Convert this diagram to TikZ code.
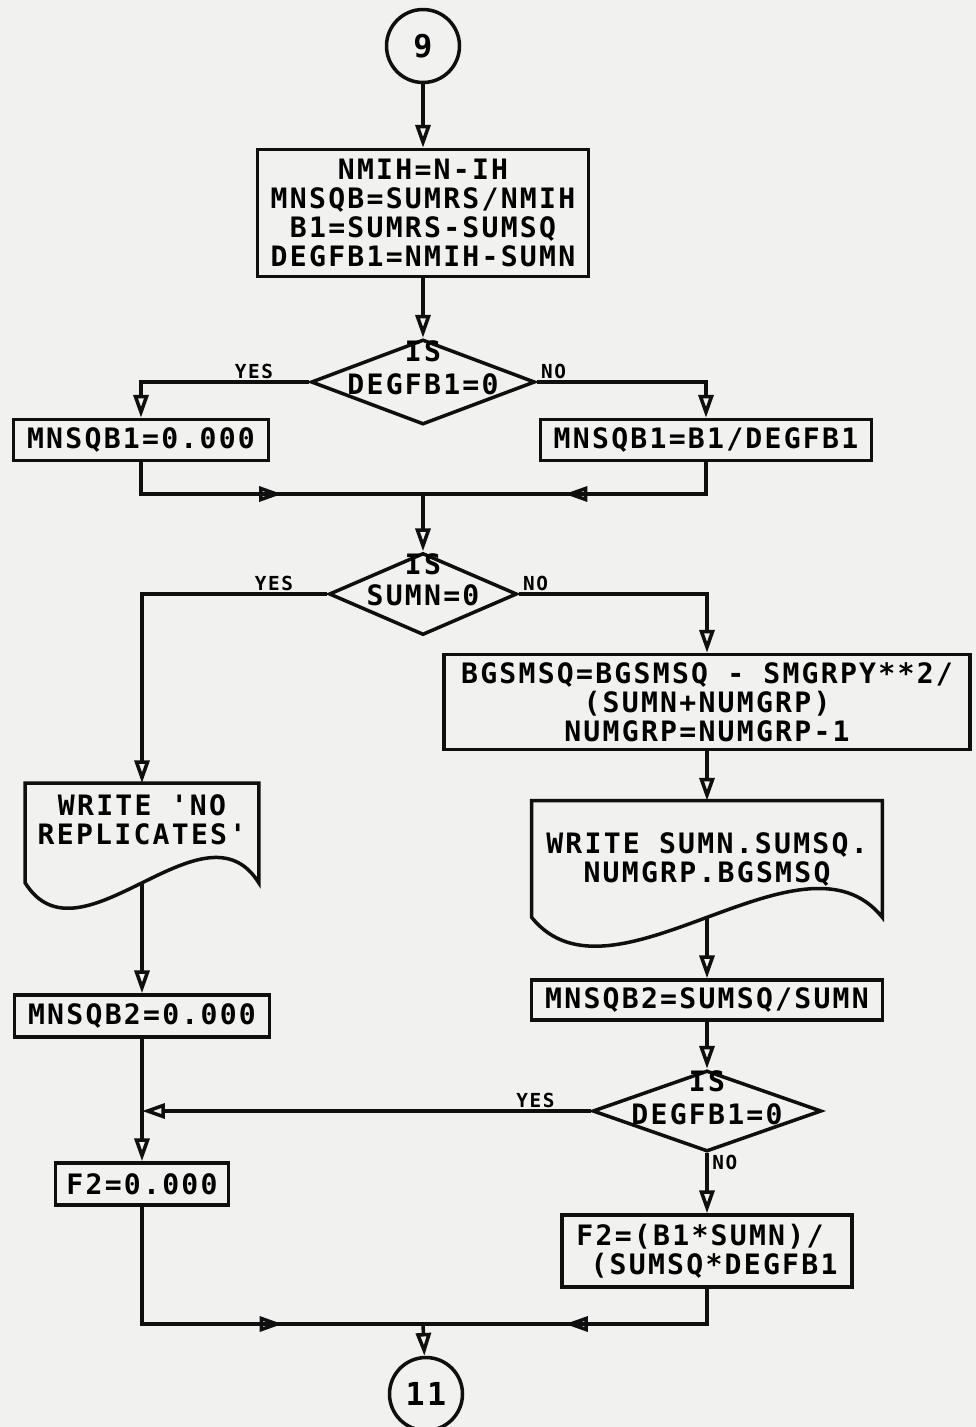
\documentclass[tikz,border=0pt]{standalone}
\usepackage{fontspec}
\newfontfamily\plotter{DejaVu Sans Mono}[LetterSpace=8]
\usepackage{xcolor}
\usetikzlibrary{arrows.meta,positioning,calc,shapes.geometric,decorations.markings}
\definecolor{paper}{RGB}{241,241,239}
\definecolor{ink}{RGB}{15,15,15}

\begin{document}
\begin{tikzpicture}[x=0.02cm,y=-0.02cm,>={Triangle[open,length=13pt,width=8.5pt]},
  font=\plotter\bfseries\fontsize{16pt}{16.5pt}\selectfont]
  \tikzset{
    box/.style={draw=ink, line width=2pt, inner sep=2pt, align=center},
    decision/.style={draw=ink, diamond, line width=2pt, inner sep=0pt},
    doc/.style={inner sep=0pt},
    term/.style={draw=ink, circle, line width=2pt, minimum size=1.46cm,
      font=\plotter\bfseries\fontsize{18pt}{18pt}\selectfont},
    line/.style={draw=ink, line width=2pt},
    flow/.style={line, ->},
    midarrow/.style={line, decoration={markings, mark=at position 0.5 with {\arrow{>}}},
      postaction={decorate}},
    answer/.style={font=\plotter\bfseries\fontsize{11pt}{11pt}\selectfont, inner sep=0pt},
    inner/.style={align=center, inner sep=0pt}
  }
  \fill[paper] (0,0) rectangle (976,1427);
  \useasboundingbox (0,0) rectangle (976,1427);

  % entry and first block
  \node[term] (c9) at (423,46) {9};
  \node[box, minimum width=6.62cm, minimum height=2.54cm] (b1) at (423,213)
    {NMIH=N-IH\\MNSQB=SUMRS/NMIH\\B1=SUMRS-SUMSQ\\DEGFB1=NMIH-SUMN};
  \draw[flow] (c9) -- (b1);

  % first test
  \node[decision, minimum width=4.48cm, minimum height=1.7cm,
    label={[inner, yshift=0.28cm]center:{IS\\[2pt]DEGFB1=0}}] (d1) at (423,382) {};
  \draw[flow] (b1) -- (d1);
  \node[box, minimum width=5.1cm, minimum height=0.82cm] (b2l) at (141,440) {MNSQB1=0.000};
  \node[box, minimum width=6.62cm, minimum height=0.82cm] (b2r) at (706,440) {MNSQB1=B1/DEGFB1};
  \draw[flow] (d1.west) -| (b2l.north);
  \draw[flow] (d1.east) -| (b2r.north);
  \node[answer, anchor=south east] (y1) at ($(d1.west)+(-36,-3)$) {YES};
  \node[answer, anchor=south west] (n1) at ($(d1.east)+(4,-3)$) {NO};

  % join
  \coordinate (j1) at (423,494);
  \draw[line] (b2l.south) |- (j1);
  \draw[midarrow] (b2l.south |- j1) -- (j1);
  \draw[line] (b2r.south) |- (j1);
  \draw[midarrow] (b2r.south |- j1) -- (j1);

  % second test
  \node[decision, minimum width=3.76cm, minimum height=1.64cm,
    label={[inner, yshift=0.28cm]center:{IS\\[1pt]SUMN=0}}] (d2) at (423,594) {};
  \draw[flow] (j1) -- (d2);
  \node[answer, anchor=south east] (y2) at ($(d2.west)+(-34,-3)$) {YES};
  \node[answer, anchor=south west] (n2) at ($(d2.east)+(4,-3)$) {NO};
  \node[box, minimum width=10.52cm, minimum height=1.9cm] (b3r) at (707,702)
    {BGSMSQ=BGSMSQ - SMGRPY**2/\\(SUMN+NUMGRP)\\NUMGRP=NUMGRP-1};
  \draw[flow] (d2.east) -| (b3r.north);

  % output documents
  \node[doc, minimum width=4.66cm, minimum height=1.98cm,
    label={[inner, yshift=0.26cm]center:{WRITE 'NO\\REPLICATES'}}] (w1) at (142,833) {};
  \draw[line, line join=miter] (w1.south west) -- (w1.north west) -- (w1.north east)
    -- (w1.south east) .. controls ($(w1.south east)+(-55,-88)$)
    and ($(w1.south west)+(55,88)$) .. (w1.south west) -- cycle;
  \draw[flow] (d2.west) -| (w1.north);
  \node[doc, minimum width=7cm, minimum height=2.32cm,
    label={[inner]center:{WRITE SUMN.SUMSQ.\\NUMGRP.BGSMSQ}}] (w2) at (707,859) {};
  \draw[line, line join=miter] (w2.south west) -- (w2.north west) -- (w2.north east)
    -- (w2.south east) .. controls ($(w2.south east)+(-80,-100)$)
    and ($(w2.south west)+(80,100)$) .. (w2.south west) -- cycle;
  \draw[flow] (b3r.south) -- (w2.north);

  % mean squares
  \node[box, minimum width=5.1cm, minimum height=0.84cm] (b4l) at (142,1016) {MNSQB2=0.000};
  \node[box, minimum width=7.02cm, minimum height=0.8cm] (b4r) at (707,1000) {MNSQB2=SUMSQ/SUMN};
  \draw[flow] (w1.south) -- (b4l.north);
  \draw[flow] (w2.south) -- (b4r.north);

  % third test
  \node[decision, minimum width=4.58cm, minimum height=1.62cm,
    label={[inner, yshift=0.27cm]center:{IS\\[2pt]DEGFB1=0}}] (d3) at (707,1111) {};
  \draw[flow] (b4r) -- (d3);
  \node[box, minimum width=3.46cm, minimum height=0.84cm] (b5l) at (142,1184) {F2=0.000};
  \node[box, align=left, minimum width=5.8cm, minimum height=1.44cm] (b5r) at (707,1251)
    {F2=(B1*SUMN)/\\\hspace*{8pt}(SUMSQ*DEGFB1};
  \draw[flow] (b4l) -- (b5l);
  \coordinate (j3) at (b4l.south |- d3.west);
  \draw[flow] (d3.west) -- (j3);
  \draw[flow] (d3.south) -- (b5r.north);
  \node[answer, anchor=south east] (y3) at ($(d3.west)+(-36,-3)$) {YES};
  \node[answer, anchor=north west] (n3) at ($(d3.south)+(5,2)$) {NO};

  % exit
  \coordinate (j2) at (423,1324);
  \draw[line] (b5l.south) |- (j2);
  \draw[midarrow] (b5l.south |- j2) -- (j2);
  \draw[line] (b5r.south) |- (j2);
  \draw[midarrow] (b5r.south |- j2) -- (j2);
  \node[term] (c11) at (426,1394) {11};
  \draw[flow] (j2) -- (c11);
\end{tikzpicture}
\end{document}
